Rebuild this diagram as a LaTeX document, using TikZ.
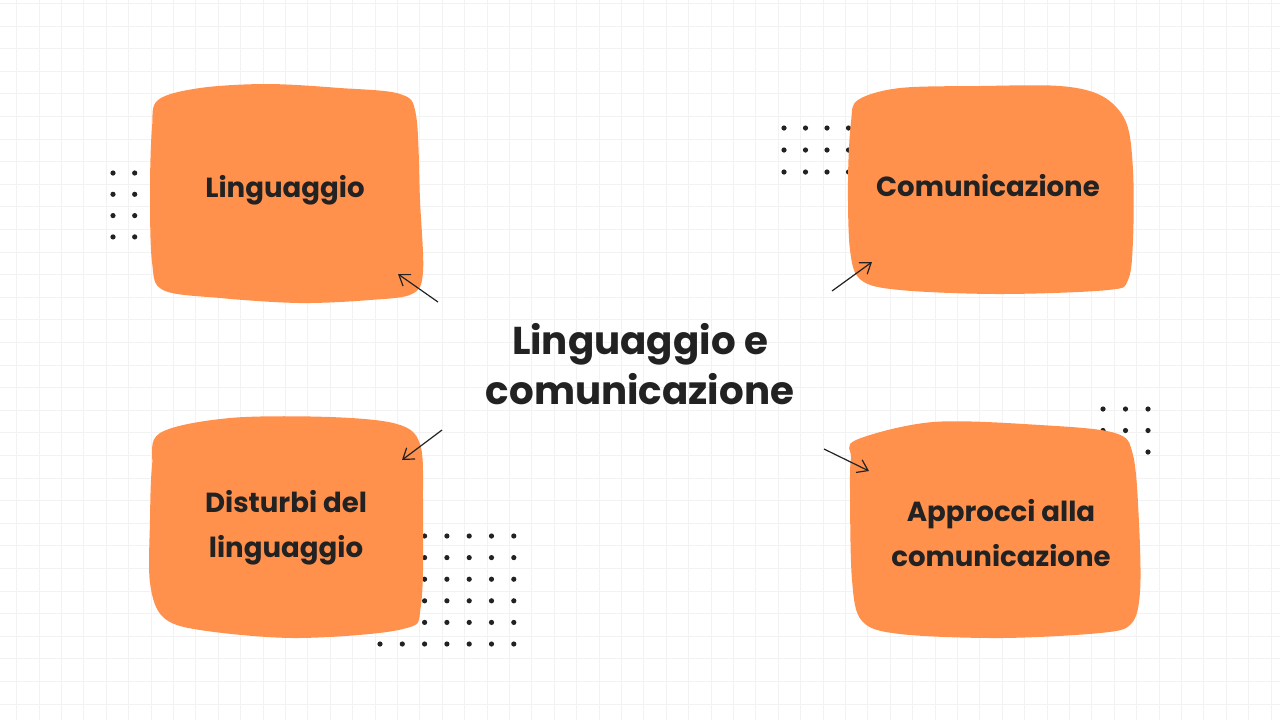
\documentclass[tikz,border=0pt]{standalone}
\usepackage{fontspec}
\setmainfont{Poppins}
\usetikzlibrary{arrows.meta}
\definecolor{blobc}{HTML}{FF914D}
\definecolor{gridc}{HTML}{F2F2F2}
\definecolor{inkc}{HTML}{222222}
\tikzset{
  blob/.style={fill=blobc, draw=none},
  lab/.style={text=inkc, font=\fontsize{13.8}{22.5}\selectfont\bfseries, align=center, inner sep=0pt},
  title/.style={text=inkc, font=\fontsize{19.4}{25}\selectfont\bfseries, align=center, inner sep=0pt},
  conn/.style={draw=inkc, line width=0.6pt, -{Straight Barb[length=5pt,width=7pt]}},
  dotc/.style={fill=inkc, draw=none}
}
\begin{document}
\begin{tikzpicture}[x=0.5pt,y=-0.5pt]
\useasboundingbox (0,0) rectangle (1280,720);
\fill[white] (0,0) rectangle (1280,720);
% grid
\foreach \k in {0,...,56} \draw[gridc, line width=0.5pt] ({16.7+22.4*\k},0) -- ({16.7+22.4*\k},720);
\foreach \k in {0,...,31} \draw[gridc, line width=0.5pt] (0,{3.5+22.6*\k}) -- (1280,{3.5+22.6*\k});
% dots
\foreach \i in {0,1,2} \foreach \j in {0,...,3} \fill[dotc] ({113+21.7*\i},{173+21.3*\j}) circle (2.6);
\foreach \i in {0,...,3} \foreach \j in {0,1,2} \fill[dotc] ({784+21.5*\i},{128+22*\j}) circle (2.6);
\foreach \i in {0,...,6} \foreach \j in {0,...,5} \fill[dotc] ({380+22.3*\i},{536+21.6*\j}) circle (2.6);
\foreach \i in {0,1,2} \foreach \j in {0,1,2} \fill[dotc] ({1103+22.5*\i},{409+21.5*\j}) circle (2.6);
% blobs
\fill[blob] plot[smooth cycle, tension=0.55] coordinates {(158,100) (200,88) (267,84) (340,88) (400,94) (416,115) (420,200) (423,272) (412,294) (370,300) (300,303) (220,298) (163,290) (152,262) (150,190) (152,128)};
\fill[blob] plot[smooth cycle, tension=0.55] coordinates {(858,100) (900,88) (980,86) (1060,86) (1102,96) (1126,122) (1133,170) (1133,240) (1128,280) (1108,290) (1000,294) (900,290) (861,280) (850,250) (848,180) (851,122)};
\fill[blob] plot[smooth cycle, tension=0.55] coordinates {(160,433) (230,418) (330,417) (397,424) (420,444) (423,500) (421,605) (403,629) (297,638) (200,630) (163,617) (150,583) (150,520) (152,467)};
\fill[blob] plot[smooth cycle, tension=0.55] coordinates {(856,440) (933,422) (1040,425) (1115,433) (1133,455) (1139,523) (1140,592) (1131,624) (1100,633) (1000,638) (900,634) (862,621) (852,580) (850,490) (851,458)};
% texts
\node[lab] (n1) at (285,190) {Linguaggio};
\node[lab] (n2) at (988,186) {Comunicazione};
\node[lab] (n3) at (286,528) {Disturbi del\\linguaggio};
\node[lab] (n4) at (1001,533) {Approcci alla\\comunicazione};
\node[title] (c) at (640,364) {Linguaggio e\\comunicazione};
% connectors
\coordinate (a1s) at (438,302); \coordinate (a1e) at (398,274);
\coordinate (a2s) at (832,291); \coordinate (a2e) at (872,262);
\coordinate (a3s) at (442,430); \coordinate (a3e) at (402,460);
\coordinate (a4s) at (824,449); \coordinate (a4e) at (869,471);
\draw[conn] (a1s) -- (a1e);
\draw[conn] (a2s) -- (a2e);
\draw[conn] (a3s) -- (a3e);
\draw[conn] (a4s) -- (a4e);
\end{tikzpicture}
\end{document}
